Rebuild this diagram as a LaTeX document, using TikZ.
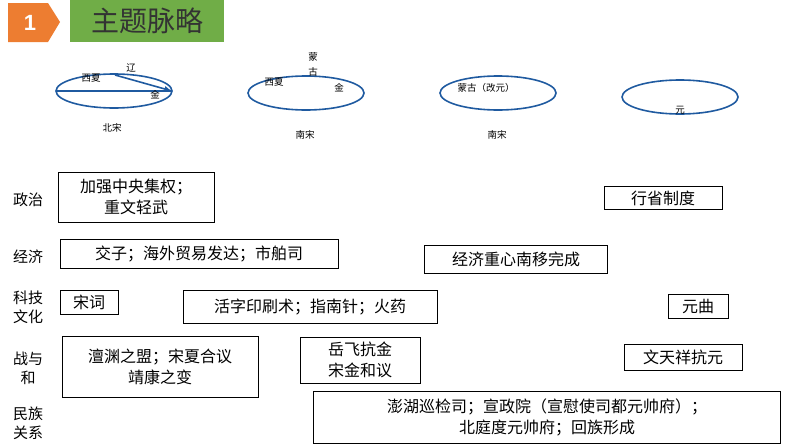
\documentclass[tikz,border=0pt]{standalone}
\usepackage{fontspec}
\setmainfont{Liberation Sans}
\newfontfamily\cjk{Noto Sans CJK SC}
\definecolor{badge}{RGB}{237,125,49}
\definecolor{titlegreen}{RGB}{112,173,71}
\definecolor{ringblue}{RGB}{31,90,160}
\tikzset{
  ring/.style={draw=ringblue,line width=1.6pt},
  tag/.style={font=\cjk\fontsize{9.5}{10}\selectfont,inner sep=0pt},
  rowlabel/.style={font=\cjk\fontsize{15}{19}\selectfont,align=center,inner sep=0pt},
  fact/.style={draw,line width=0.8pt,font=\cjk\fontsize{16}{21}\selectfont,align=center,inner sep=2pt}
}
\begin{document}
\begin{tikzpicture}[x=1pt,y=-1pt]
\useasboundingbox (0,0) rectangle (794,447);
% title
\fill[badge] (8,3)--(48,3)--(60,22)--(48,42)--(8,42)--cycle;
\node[white,font=\bfseries\fontsize{22}{22}\selectfont] (num) at (30,23) {1};
\fill[titlegreen] (70,0) rectangle (224,42);
\node[font=\cjk\fontsize{28}{28}\selectfont,text=black!80] (title) at (147,21) {主题脉略};
% maps
\draw[ring] (114,91) ellipse (58 and 17);
\coordinate (w) at (56,91);
\coordinate (e) at (172,91);
\coordinate (n) at (115,75);
\draw[ring] (w)--(e);
\draw[ring,-latex] (n)--(e);
\node[tag] (xx1) at (91,78) {西夏};
\node[tag] (liao) at (131,68) {辽};
\node[tag] (jin1) at (155,95) {金};
\node[tag] (bs) at (112,128) {北宋};
\draw[ring] (306,93) ellipse (58 and 17);
\node[tag] (mg1) at (313,57) {蒙};
\node[tag] (mg2) at (313,72) {古};
\node[tag] (xx2) at (274,82) {西夏};
\node[tag] (jin2) at (339,88) {金};
\node[tag] (ns1) at (305,135) {南宋};
\draw[ring] (498,93) ellipse (58 and 17);
\node[tag] (mg3) at (486,88) {蒙古（改元）};
\node[tag] (ns2) at (497,135) {南宋};
\draw[ring] (680,97) ellipse (58 and 17);
\node[tag] (yuan) at (680,110) {元};
% rows
\node[rowlabel] (zz) at (28,200) {政治};
\node[rowlabel] (jj) at (28,257) {经济};
\node[rowlabel] (kj) at (28,307) {科技\\文化};
\node[rowlabel] (zy) at (28,368) {战与\\和};
\node[rowlabel] (mz) at (28,423) {民族\\关系};
% facts
\node[fact,minimum width=156,minimum height=50] (zz1) at (136,197) {加强中央集权；\\重文轻武};
\node[fact,minimum width=118,minimum height=23] (zz2) at (663,198) {行省制度};
\node[fact,minimum width=278,minimum height=29] (jj1) at (199,254) {交子；海外贸易发达；市舶司};
\node[fact,minimum width=183,minimum height=28] (jj2) at (516,259) {经济重心南移完成};
\node[fact,minimum width=58,minimum height=24] (kj1) at (89,302) {宋词};
\node[fact,minimum width=254,minimum height=33] (kj2) at (310,307) {活字印刷术；指南针；火药};
\node[fact,minimum width=60,minimum height=24] (kj3) at (698,306) {元曲};
\node[fact,minimum width=196,minimum height=61] (zy1) at (160,367) {澶渊之盟；宋夏合议\\靖康之变};
\node[fact,minimum width=120,minimum height=46] (zy2) at (360,360) {岳飞抗金\\宋金和议};
\node[fact,minimum width=118,minimum height=26] (zy3) at (683,357) {文天祥抗元};
\node[fact,minimum width=467,minimum height=52] (mz1) at (547,417) {澎湖巡检司；宣政院（宣慰使司都元帅府）；\\北庭度元帅府；回族形成};
\end{tikzpicture}
\end{document}
